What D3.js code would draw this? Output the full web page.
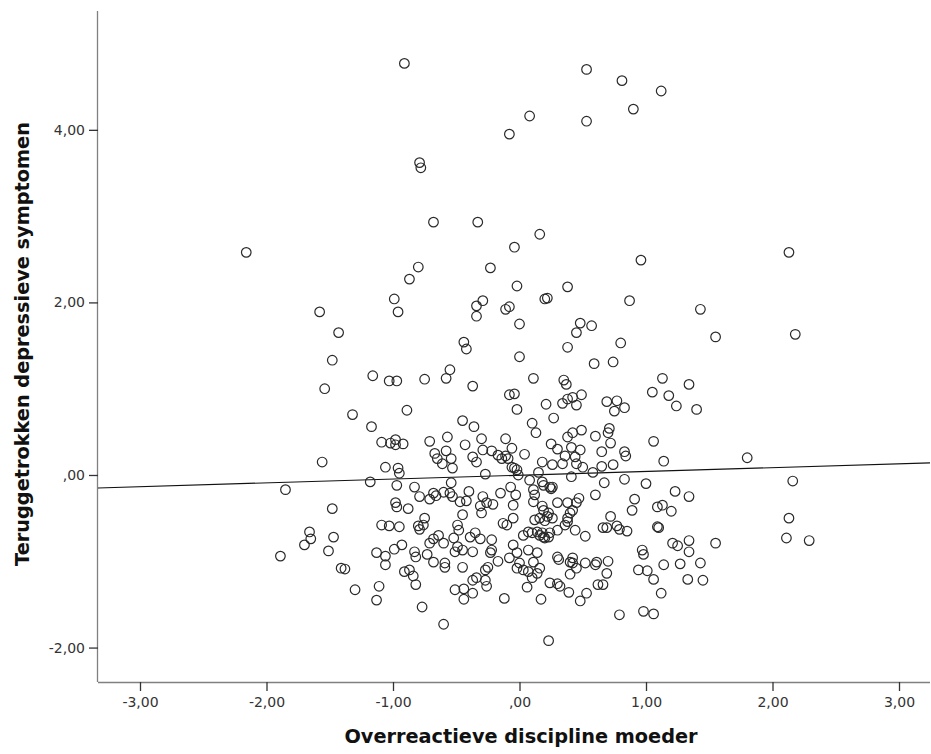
<!DOCTYPE html>
<html>
<head>
<meta charset="utf-8">
<title>Overreactieve discipline moeder</title>
<script src="https://d3js.org/d3.v7.min.js"></script>
<style>
body { margin: 0; background: #fff; }
svg { display: block; }
</style>
</head>
<body>
<svg id="chart" width="931" height="754"></svg>
<script>
// scatter: overreactieve discipline moeder (x) vs teruggetrokken depressieve symptomen (y)
var xTitle = "Overreactieve discipline moeder";
var yTitle = "Teruggetrokken depressieve symptomen";

var xTicks = [-3, -2, -1, 0, 1, 2, 3];
var yTicks = [-2, 0, 2, 4];

// fit line (y = a + b*x)
var fitIntercept = -0.003;
var fitSlope = 0.0441;

// points, in bands from top to bottom
var pointsTop = [
  [-0.91,4.77],[0.53,4.70],[0.81,4.57],[1.12,4.45],[0.90,4.24],[0.08,4.16],[-0.08,3.95],[0.53,4.10],[-0.79,3.62],[-0.78,3.56],
  [-0.68,2.93],[-0.33,2.93],[0.16,2.79],[-0.04,2.64],[-2.16,2.58],[0.96,2.49],[-0.80,2.41],[-0.23,2.40],[-0.87,2.27],[-0.02,2.19],
  [0.38,2.18],[-0.99,2.04],[-0.29,2.02],[-0.34,1.96],[-0.34,1.84],[-0.96,1.89],[-0.08,1.95],[-0.11,1.92],[0.22,2.05],[0.20,2.04],
  [0.87,2.02],[1.43,1.92],[-1.58,1.89],[0.48,1.76],[0.57,1.73],[0.00,1.75],[2.13,2.58]
];
var pointsUpper = [
  [-1.43,1.65],[0.45,1.65],[2.18,1.63],[1.55,1.60],[-0.44,1.54],[-0.42,1.46],[0.80,1.53],[0.38,1.48],[-1.48,1.33],[0.00,1.37],
  [0.59,1.29],[0.74,1.31],[-0.55,1.22],[-1.16,1.15],[0.11,1.12],[-0.58,1.12],[-1.03,1.09],[-0.97,1.09],[-0.75,1.11],[1.13,1.12],
  [0.35,1.10],[0.37,1.05]
];
var pointsMidLeft = [
  [-0.37,1.03],[-1.54,1.00],[-0.08,0.93],[-0.04,0.94],[-0.02,0.76],[-1.32,0.70],[-0.89,0.75],[-1.17,0.56],[-0.45,0.63],[-0.36,0.56],
  [-1.09,0.38],[-1.02,0.37],[-0.98,0.41],[-0.98,0.35],[-0.92,0.36],[-0.71,0.39],[-0.57,0.44],[-0.43,0.35],[-0.30,0.42],[-0.11,0.42],
  [-0.06,0.31],[0.04,0.24],[-0.67,0.25],[-0.65,0.19],[-0.58,0.28],[-0.61,0.13],[-0.54,0.19],[-0.53,0.08],[-0.37,0.21],[-0.34,0.15],
  [-0.29,0.29],[-0.22,0.28],[-0.17,0.23],[-0.14,0.19],[-0.11,0.22],[-0.09,0.19],[-0.06,0.09],[-0.02,0.06],[-0.01,0.00],[-0.04,0.08],
  [-0.27,0.01],[-1.06,0.09],[-0.96,0.08],[-0.95,0.02],[-1.56,0.15],[-1.18,-0.08],[-1.85,-0.17],[-0.97,-0.12],[-0.83,-0.14],[-0.79,-0.25],
  [-0.71,-0.28],[-0.68,-0.21],[-0.66,-0.24],[-0.54,-0.09],[-0.55,-0.21],[-0.53,-0.25],[-0.60,-0.20],[-0.40,-0.19],[-0.29,-0.25],[-0.15,-0.21],
  [-0.07,-0.14],[-0.03,-0.23]
];
var pointsMidRight = [
  [1.34,1.05],[1.05,0.96],[1.18,0.92],[1.24,0.80],[1.40,0.76],[0.21,0.82],[0.34,0.83],[0.38,0.88],[0.42,0.90],[0.49,0.93],
  [0.45,0.81],[0.69,0.85],[0.77,0.86],[0.75,0.74],[0.83,0.78],[0.27,0.66],[0.10,0.60],[0.13,0.49],[0.49,0.52],[0.42,0.49],
  [0.38,0.44],[0.60,0.45],[0.71,0.54],[0.70,0.49],[0.72,0.37],[0.25,0.36],[0.30,0.30],[0.41,0.32],[0.48,0.29],[0.36,0.22],
  [0.44,0.21],[0.65,0.27],[0.83,0.27],[0.84,0.22],[1.06,0.39],[1.14,0.16],[1.80,0.20],[2.16,-0.07],[0.18,0.15],[0.26,0.12],
  [0.34,0.13],[0.45,0.13],[0.50,0.09],[0.58,0.03],[0.65,0.10],[0.74,0.12],[0.15,0.03],[0.41,-0.02],[0.08,-0.06],[0.18,-0.08],
  [0.19,-0.12],[0.24,-0.14],[0.26,-0.14],[0.25,-0.16],[0.67,-0.09],[0.83,-0.05],[1.00,-0.10],[0.60,-0.23],[0.11,-0.17],[0.12,-0.23],
  [0.47,-0.27],[0.91,-0.28],[1.23,-0.19],[1.34,-0.25]
];
var pointsLowLeft = [
  [-1.48,-0.39],[-1.66,-0.66],[-1.65,-0.74],[-1.70,-0.81],[-1.89,-0.94],[-1.47,-0.72],[-1.51,-0.88],[-1.41,-1.08],[-1.38,-1.09],[-1.30,-1.33],
  [-1.11,-1.29],[-1.13,-1.45],[-0.77,-1.53],[-0.60,-1.73],[-0.12,-1.43],[-1.09,-0.58],[-1.03,-0.59],[-0.95,-0.60],[-0.99,-0.86],[-0.93,-0.81],
  [-1.13,-0.90],[-1.06,-0.94],[-1.06,-1.04],[-0.91,-1.12],[-0.87,-1.10],[-0.84,-1.17],[-0.82,-1.27],[-0.80,-0.59],[-0.79,-0.63],[-0.75,-0.50],
  [-0.76,-0.58],[-0.71,-0.79],[-0.68,-0.74],[-0.64,-0.70],[-0.60,-0.79],[-0.59,-1.02],[-0.59,-1.07],[-0.83,-0.89],[-0.82,-0.95],[-0.73,-0.92],
  [-0.68,-1.01],[-0.52,-0.73],[-0.49,-0.58],[-0.48,-0.64],[-0.45,-0.46],[-0.51,-0.89],[-0.49,-0.83],[-0.45,-0.87],[-0.37,-0.89],[-0.45,-1.07],
  [-0.39,-0.72],[-0.35,-0.67],[-0.31,-0.74],[-0.30,-0.44],[-0.26,-0.32],[-0.21,-0.34],[-0.22,-0.75],[-0.22,-0.87],[-0.23,-0.90],[-0.17,-1.00],
  [-0.27,-1.10],[-0.25,-1.07],[-0.37,-1.22],[-0.34,-1.19],[-0.27,-1.22],[-0.26,-1.29],[-0.51,-1.33],[-0.44,-1.32],[-0.44,-1.44],[-0.37,-1.37],
  [-0.13,-0.56],[-0.10,-0.58],[-0.05,-0.50],[-0.05,-0.35],[-0.05,-0.81],[-0.08,-0.96],[-0.02,-0.90],[-0.02,-1.08],[-0.47,-0.31],[-0.42,-0.30],
  [-0.31,-0.36],[-0.98,-0.32],[-0.97,-0.37],[-0.88,-0.39]
];
var pointsLowRight = [
  [0.11,-0.31],[0.18,-0.36],[0.19,-0.41],[0.23,-0.44],[0.22,-0.48],[0.26,-0.50],[0.16,-0.50],[0.20,-0.53],[0.12,-0.52],[0.30,-0.32],
  [0.38,-0.32],[0.45,-0.32],[0.40,-0.44],[0.42,-0.41],[0.38,-0.50],[0.38,-0.54],[0.36,-0.58],[0.03,-0.70],[0.07,-0.66],[0.10,-0.67],
  [0.14,-0.66],[0.18,-0.67],[0.19,-0.72],[0.23,-0.72],[0.24,-0.67],[0.20,-0.73],[0.16,-0.70],[0.30,-0.64],[0.44,-0.64],[0.52,-0.71],
  [0.72,-0.48],[0.66,-0.61],[0.69,-0.61],[0.77,-0.59],[0.79,-0.63],[0.85,-0.65],[0.89,-0.41],[1.09,-0.37],[1.13,-0.35],[1.20,-0.42],
  [1.09,-0.60],[1.10,-0.61],[0.00,-1.02],[0.03,-1.10],[0.07,-0.87],[0.14,-0.90],[0.11,-1.01],[0.16,-1.08],[0.14,-1.14],[0.10,-1.19],
  [0.06,-1.30],[0.07,-1.12],[0.17,-1.44],[0.24,-1.25],[0.30,-1.26],[0.32,-1.29],[0.39,-1.36],[0.48,-1.46],[0.53,-1.37],[0.30,-0.95],
  [0.31,-0.98],[0.40,-1.01],[0.42,-0.96],[0.42,-1.02],[0.45,-1.08],[0.40,-1.15],[0.52,-1.02],[0.60,-1.04],[0.61,-1.01],[0.70,-1.00],
  [0.69,-1.14],[0.62,-1.27],[0.66,-1.27],[0.79,-1.62],[0.97,-0.87],[0.98,-0.92],[0.94,-1.10],[1.01,-1.11],[1.06,-1.21],[1.14,-1.04],
  [1.12,-1.37],[0.98,-1.58],[1.06,-1.61],[1.21,-0.79],[1.25,-0.82],[1.34,-0.76],[1.34,-0.89],[1.55,-0.79],[1.27,-1.03],[1.43,-1.02],
  [1.33,-1.21],[1.45,-1.22],[0.23,-1.92],[2.11,-0.73],[2.29,-0.76],[2.13,-0.50]
];

var points = pointsTop.concat(pointsUpper, pointsMidLeft, pointsMidRight, pointsLowLeft, pointsLowRight);

var svg = d3.select("#chart");
var plotLeft = 98, plotRight = 930, plotTop = 11, plotBottom = 682;

var x = d3.scaleLinear().domain([-3.332, 3.245]).range([plotLeft, plotRight]);
var y = d3.scaleLinear().domain([-2.399, 5.377]).range([plotBottom, plotTop]);

// SPSS style number: comma decimal, no leading zero
function fmt(v) {
  var s = v.toFixed(2).replace(".", ",");
  if (s.indexOf("0,") === 0) s = s.slice(1);
  return s;
}

var fontFam = "'DejaVu Sans', sans-serif";

// x axis
var xAxis = svg.append("g")
  .attr("transform", "translate(0," + plotBottom + ")")
  .call(d3.axisBottom(x).tickValues(xTicks).tickFormat(fmt).tickSize(9).tickPadding(6));

// y axis
var yAxis = svg.append("g")
  .attr("transform", "translate(" + plotLeft + ",0)")
  .call(d3.axisLeft(y).tickValues(yTicks).tickFormat(fmt).tickSize(9).tickPadding(4));

// plain axis lines (no end caps)
xAxis.select(".domain").attr("d", "M" + plotLeft + ",0.5H" + plotRight)
  .attr("stroke", "#808080").attr("stroke-width", 1.3);
yAxis.select(".domain").attr("d", "M-0.5," + plotTop + "V" + plotBottom)
  .attr("stroke", "#808080").attr("stroke-width", 1.3);

svg.selectAll(".tick line").attr("stroke", "#333").attr("stroke-width", 1.3);
svg.selectAll(".tick text")
  .attr("fill", "#333")
  .attr("font-family", fontFam)
  .attr("font-size", 14);

// fit line
var xd = x.domain();
svg.append("line")
  .attr("x1", x(xd[0])).attr("y1", y(fitIntercept + fitSlope * xd[0]))
  .attr("x2", x(xd[1])).attr("y2", y(fitIntercept + fitSlope * xd[1]))
  .attr("stroke", "#111")
  .attr("stroke-width", 1.1);

// points
svg.append("g").selectAll("circle")
  .data(points)
  .enter().append("circle")
  .attr("cx", function (d) { return x(d[0]); })
  .attr("cy", function (d) { return y(d[1]); })
  .attr("r", 4.8)
  .attr("fill", "none")
  .attr("stroke", "#2a2a2a")
  .attr("stroke-width", 1.2);

// axis titles
svg.append("text")
  .attr("x", 521)
  .attr("y", 743)
  .attr("text-anchor", "middle")
  .attr("font-family", fontFam)
  .attr("font-weight", "bold")
  .attr("font-size", 19.3)
  .attr("fill", "#111")
  .text(xTitle);

svg.append("text")
  .attr("transform", "translate(29,344) rotate(-90)")
  .attr("text-anchor", "middle")
  .attr("font-family", fontFam)
  .attr("font-weight", "bold")
  .attr("font-size", 19.3)
  .attr("fill", "#111")
  .text(yTitle);
</script>
</body>
</html>
